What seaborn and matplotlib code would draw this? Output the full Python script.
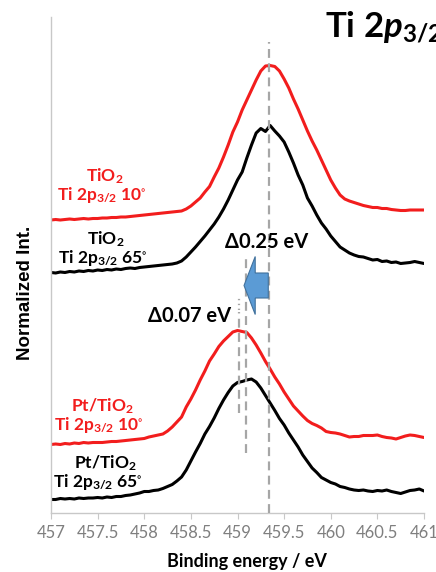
import numpy as np
import pandas as pd
import matplotlib
matplotlib.use("Agg")
import matplotlib.pyplot as plt
from matplotlib.patches import FancyArrow
import seaborn as sns

# Binding-energy axis (eV)
energy = [457.00, 457.05, 457.10, 457.15, 457.20, 457.25, 457.30, 457.35, 457.40, 457.45,
          457.50, 457.55, 457.60, 457.65, 457.70, 457.75, 457.80, 457.85, 457.90, 457.95,
          458.00, 458.05, 458.10, 458.15, 458.20, 458.25, 458.30, 458.35, 458.40, 458.45,
          458.50, 458.55, 458.60, 458.65, 458.70, 458.75, 458.80, 458.85, 458.90, 458.95,
          459.00, 459.05, 459.10, 459.15, 459.20, 459.25, 459.30, 459.35, 459.40, 459.45,
          459.50, 459.55, 459.60, 459.65, 459.70, 459.75, 459.80, 459.85, 459.90, 459.95,
          460.00, 460.05, 460.10, 460.15, 460.20, 460.25, 460.30, 460.35, 460.40, 460.45,
          460.50, 460.55, 460.60, 460.65, 460.70, 460.75, 460.80, 460.85, 460.90, 460.95,
          461.00]

# Normalized Ti 2p3/2 spectra (vertically offset, a.u.)
tio2_10 = [58.6, 58.7, 58.6, 58.7, 58.8, 58.7, 58.8, 58.9, 58.8, 58.9,
           58.9, 59.0, 59.0, 59.1, 59.1, 59.2, 59.2, 59.3, 59.4, 59.5,
           59.6, 59.7, 59.8, 59.9, 60.0, 60.1, 60.2, 60.3, 60.4, 60.8,
           61.4, 62.2, 63.0, 64.2, 65.3, 67.2, 69.0, 71.2, 73.6, 76.2,
           78.2, 80.6, 82.6, 84.6, 86.6, 88.4, 89.4, 89.5, 89.3, 88.4,
           86.8, 85.0, 82.8, 80.8, 78.6, 76.4, 74.4, 72.6, 70.6, 68.6,
           66.6, 65.0, 63.6, 62.8, 62.4, 62.1, 61.8, 61.5, 61.3, 61.1,
           61.1, 60.9, 60.9, 60.7, 60.6, 60.5, 60.5, 60.6, 60.6, 60.6,
           60.6]
tio2_65 = [48.1, 48.0, 48.2, 48.1, 48.3, 48.2, 48.4, 48.3, 48.5, 48.4,
           48.6, 48.5, 48.7, 48.6, 48.8, 48.7, 48.9, 49.0, 48.9, 49.1,
           49.2, 49.3, 49.4, 49.5, 49.6, 49.7, 49.8, 50.0, 50.4, 51.2,
           52.2, 53.2, 54.3, 55.4, 56.6, 57.8, 59.2, 60.8, 62.6, 64.6,
           66.6, 68.2, 71.0, 73.6, 76.0, 76.9, 76.3, 77.5, 76.4, 75.4,
           74.2, 72.2, 70.0, 67.6, 65.6, 63.0, 61.4, 59.6, 58.0, 56.8,
           55.4, 54.3, 53.2, 52.6, 52.0, 51.6, 51.3, 51.2, 50.9, 50.6,
           50.7, 50.3, 50.4, 50.1, 50.2, 49.9, 50.0, 50.1, 50.3, 50.1,
           49.9]
pt_tio2_10 = [13.7, 13.8, 13.7, 13.9, 13.8, 14.0, 13.9, 14.1, 14.0, 14.1,
              14.1, 14.1, 14.2, 14.3, 14.3, 14.4, 14.5, 14.6, 14.7, 14.8,
              14.9, 15.2, 15.4, 15.6, 15.8, 16.4, 17.2, 18.2, 19.2, 21.2,
              22.8, 24.6, 26.6, 28.4, 30.4, 31.8, 33.3, 34.4, 35.3, 36.2,
              36.5, 36.3, 36.1, 35.0, 33.6, 32.0, 30.3, 28.8, 27.2, 25.8,
              24.2, 22.8, 21.4, 20.4, 19.4, 18.5, 17.9, 17.5, 17.0, 16.3,
              16.1, 16.0, 15.8, 15.5, 15.2, 15.3, 15.3, 15.5, 15.5, 15.5,
              15.6, 15.3, 15.1, 15.0, 14.8, 15.1, 15.4, 15.6, 15.5, 15.3,
              15.1]
pt_tio2_65 = [2.7, 2.7, 2.9, 2.8, 2.9, 2.8, 3.0, 2.9, 3.0, 3.0,
              3.1, 3.0, 3.2, 3.1, 3.3, 3.3, 3.5, 3.6, 3.8, 4.0,
              4.3, 4.3, 4.5, 4.6, 4.9, 5.3, 5.7, 6.4, 7.2, 8.6,
              10.4, 12.2, 13.9, 15.8, 17.3, 19.0, 20.9, 22.6, 24.1, 25.4,
              26.1, 26.3, 26.6, 26.8, 26.2, 25.0, 23.5, 22.0, 20.5, 18.9,
              17.6, 16.0, 14.6, 13.2, 11.6, 10.3, 9.0, 8.1, 7.1, 6.6,
              6.1, 5.8, 5.3, 5.1, 4.8, 4.6, 4.5, 4.6, 4.4, 4.3,
              4.5, 4.4, 4.6, 4.3, 4.1, 3.9, 4.2, 4.5, 4.6, 4.8,
              4.4]

# Peak positions: TiO2 reference, then the two shifts
peak_tio2 = 459.34
shift_65 = 0.25
shift_10 = 0.07
peak_pt_65 = round(peak_tio2 - shift_65, 2)
peak_pt_10 = round(peak_pt_65 - shift_10, 2)

x_ticks = [457, 457.5, 458, 458.5, 459, 459.5, 460, 460.5, 461]
x_tick_labels = ["457", "457.5", "458", "458.5", "459", "459.5", "460", "460.5", "461"]

RED = "#f21d1d"
BLACK = "#000000"
GRAY = "#a6a6a6"

sns.set_theme(style="white")
plt.rcParams["font.family"] = ["Lato", "DejaVu Sans"]
plt.rcParams["mathtext.fontset"] = "custom"
plt.rcParams["mathtext.rm"] = "Lato:bold"
plt.rcParams["mathtext.bf"] = "Lato:bold"
plt.rcParams["mathtext.it"] = "Lato:italic:bold"
plt.rcParams["mathtext.default"] = "regular"

fig = plt.figure(figsize=(4.36, 5.72), dpi=100)
ax = fig.add_axes([51 / 436, 59 / 572, 373 / 436, 496 / 572])

df = pd.DataFrame({
    "energy": energy * 4,
    "intensity": tio2_10 + tio2_65 + pt_tio2_10 + pt_tio2_65,
    "series": (["TiO2 10"] * len(energy) + ["TiO2 65"] * len(energy)
               + ["Pt/TiO2 10"] * len(energy) + ["Pt/TiO2 65"] * len(energy)),
})
palette = {"TiO2 10": RED, "TiO2 65": BLACK, "Pt/TiO2 10": RED, "Pt/TiO2 65": BLACK}
sns.lineplot(data=df, x="energy", y="intensity", hue="series", palette=palette,
             linewidth=2.2, legend=False, ax=ax, sort=False, estimator=None)

# Peak-position guides
ax.vlines(peak_tio2, 0, 94.2, colors=GRAY, linewidth=1.6, linestyles=(0, (4, 2.4)), zorder=3)
ax.vlines(peak_pt_65, 12.0, 51.0, colors=GRAY, linewidth=1.6, linestyles=(0, (4, 2.4)), zorder=3)
ax.vlines(peak_pt_10, 20.0, 40.2, colors=GRAY, linewidth=1.6, linestyles=(0, (4, 2.4)), zorder=3)
ax.vlines(peak_pt_10, 40.6, 43.2, colors=GRAY, linewidth=1.6, linestyles=(0, (0.6, 1.6)), zorder=3)

# Shift arrow
arrow = FancyArrow(peak_tio2 - 0.01, 45.5, -(peak_tio2 - 0.01 - 459.07), 0,
                   width=5.0, head_width=11.6, head_length=0.12,
                   length_includes_head=True, facecolor="#5b9bd5",
                   edgecolor="#41719c", linewidth=0.8, zorder=4)
ax.add_patch(arrow)

lab_kw = dict(ha="center", va="baseline", fontsize=12.5, fontweight="bold")
ax.text(457.58, 66.4, r"TiO$_2$", color=RED, **lab_kw)
ax.text(457.54, 62.6, r"Ti 2p$_{3/2}$ 10$^{\circ}$", color=RED, **lab_kw)
ax.text(457.59, 53.7, r"TiO$_2$", color=BLACK, **lab_kw)
ax.text(457.56, 50.1, r"Ti 2p$_{3/2}$ 65$^{\circ}$", color=BLACK, **lab_kw)
ax.text(457.55, 20.3, r"Pt/TiO$_2$", color=RED, **lab_kw)
ax.text(457.51, 16.6, r"Ti 2p$_{3/2}$ 10$^{\circ}$", color=RED, **lab_kw)
ax.text(457.58, 8.9, r"Pt/TiO$_2$", color=BLACK, **lab_kw)
ax.text(457.50, 5.1, r"Ti 2p$_{3/2}$ 65$^{\circ}$", color=BLACK, **lab_kw)

ax.text(459.31, 52.9, "\u0394%.2f eV" % shift_65, ha="center", va="baseline",
        fontsize=14.5, fontweight="bold", color=BLACK)
ax.text(458.49, 38.1, "\u0394%.2f eV" % shift_10, ha="center", va="baseline",
        fontsize=14.5, fontweight="bold", color=BLACK)

ax.set_xlim(457, 461)
ax.set_ylim(0, 99.2)
ax.set_xticks(x_ticks)
ax.set_xticklabels(x_tick_labels)
ax.set_yticks([])
ax.set_xlabel("")
ax.set_ylabel("")
for side in ["top", "right"]:
    ax.spines[side].set_visible(False)
for side in ["left", "bottom"]:
    ax.spines[side].set_color("#c8c8c8")
    ax.spines[side].set_linewidth(1.0)
ax.tick_params(axis="x", bottom=True, direction="out", length=4, width=0.8,
               color="#c8c8c8", labelcolor="#7f7f7f", labelsize=12, pad=5)

fig.text(0.567, 1 - 567 / 572, "Binding energy / eV", ha="center", va="baseline",
         fontsize=13, fontweight="bold", color=BLACK)
fig.text(25 / 436, 1 - 293 / 572, "Normalized Int.", rotation=90, ha="center",
         va="center", fontsize=13.5, fontweight="bold", color=BLACK,
         family=["Liberation Sans", "DejaVu Sans"])
fig.text(325 / 436, 1 - 37 / 572, r"Ti 2$\mathit{p}_{\mathit{3/2}}$", ha="left",
         va="baseline", fontsize=25, fontweight="bold", color=BLACK)

fig.savefig("out.png", dpi=100)
